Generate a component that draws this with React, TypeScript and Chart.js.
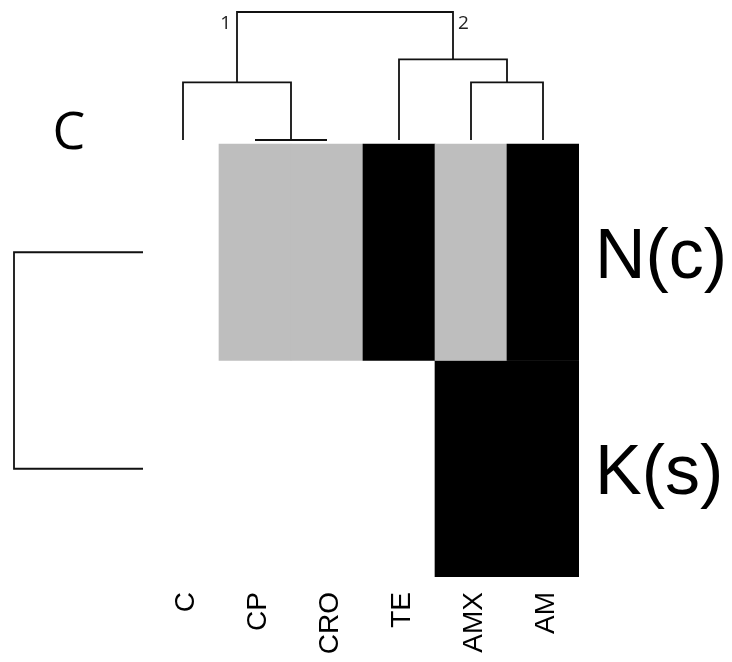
import React, { useEffect, useRef } from "react";
import { Chart, registerables } from "chart.js";

Chart.register(...registerables);

// ---------------- data ----------------
const colLabels = ["C", "CP", "CRO", "TE", "AMX", "AM"];
const rowLabels = ["N(c)", "K(s)"];
// 0 = absent (white), 1 = intermediate (grey), 2 = resistant (black)
const rowNValues = [0, 1, 1, 2, 1, 2];
const rowKValues = [0, 0, 0, 0, 2, 2];
// linkage: [childA, childB, height]; indices >= n refer to earlier merges
const colLinkage = [
  [1, 2, 0.0],
  [4, 5, 0.45],
  [0, 6, 0.45],
  [3, 7, 0.63],
  [8, 9, 1.0],
];
const rowLinkage = [[0, 1, 1.0]];
const clusterTags = ["1", "2"];
const cornerLabel = "C";

// ---------------- style / layout ----------------
const W = 732;
const H = 662;
const COL_PX = 72;
const ROW_PX = 216.5;
const HEAT_LEFT = 147;
const HEAT_TOP = 144;
const HEAT_BOTTOM = 577;
const HEAT_RIGHT = HEAT_LEFT + COL_PX * colLabels.length;
const X_MIN = -0.5 - HEAT_LEFT / COL_PX;
const X_MAX = colLabels.length - 0.5;
const Y_MIN = -0.5;
const Y_MAX = rowLabels.length - 0.5 + HEAT_TOP / ROW_PX;
const TOP_BASE = rowLabels.length - 0.5 + 4 / ROW_PX;
const TOP_SPAN = 128 / ROW_PX;
const LEFT_BASE = -0.5 - 4 / COL_PX;
const LEFT_SPAN = 129 / COL_PX;
const COLORS = ["#ffffff", "#bebebe", "#000000"];
const LINE_COLOR = "#111111";
const LINE_WIDTH = 1.8;
const SANS = "'Liberation Sans', Arial, sans-serif";

const rowY = (r: number) => rowLabels.length - 1 - r;

function dendroSegments(
  linkage: number[][],
  n: number,
  leafPos: (i: number) => number
) {
  const pos: number[] = [];
  const hgt: number[] = [];
  for (let i = 0; i < n; i++) {
    pos[i] = leafPos(i);
    hgt[i] = 0;
  }
  const segs: { a: number; b: number; ha: number; hb: number; h: number }[] = [];
  linkage.forEach(([a, b, h], k) => {
    segs.push({ a: pos[a], b: pos[b], ha: hgt[a], hb: hgt[b], h });
    pos[n + k] = (pos[a] + pos[b]) / 2;
    hgt[n + k] = h;
  });
  return { segs, pos, hgt };
}

const zeroPad = (s: any) => {
  s.paddingLeft = 0;
  s.paddingRight = 0;
  s.paddingTop = 0;
  s.paddingBottom = 0;
};

export default function App() {
  const ref = useRef<HTMLCanvasElement | null>(null);

  useEffect(() => {
    if (!ref.current) return;
    const rows = [rowNValues, rowKValues];

    const barSets = rows.map((vals, r) => ({
      type: "bar" as const,
      label: rowLabels[r],
      data: vals.map((_, i) => ({ x: i, y: [rowY(r) - 0.5, rowY(r) + 0.5] })),
      backgroundColor: vals.map((v) => COLORS[v]),
      borderWidth: 0,
      barPercentage: 1,
      categoryPercentage: 1,
      grouped: false,
      order: 2,
    }));

    const top = dendroSegments(colLinkage, colLabels.length, (i) => i);
    const topSets = top.segs.map((s) => ({
      type: "line" as const,
      label: "",
      data: [
        { x: s.a, y: TOP_BASE + s.ha * TOP_SPAN },
        { x: s.a, y: TOP_BASE + s.h * TOP_SPAN },
        { x: s.b, y: TOP_BASE + s.h * TOP_SPAN },
        { x: s.b, y: TOP_BASE + s.hb * TOP_SPAN },
      ],
      borderColor: LINE_COLOR,
      borderWidth: LINE_WIDTH,
      pointRadius: 0,
      fill: false,
      tension: 0,
      order: 1,
    }));

    const left = dendroSegments(rowLinkage, rowLabels.length, rowY);
    const leftSets = left.segs.map((s) => ({
      type: "line" as const,
      label: "",
      data: [
        { x: LEFT_BASE - s.ha * LEFT_SPAN, y: s.a },
        { x: LEFT_BASE - s.h * LEFT_SPAN, y: s.a },
        { x: LEFT_BASE - s.h * LEFT_SPAN, y: s.b },
        { x: LEFT_BASE - s.hb * LEFT_SPAN, y: s.b },
      ],
      borderColor: LINE_COLOR,
      borderWidth: LINE_WIDTH,
      pointRadius: 0,
      fill: false,
      tension: 0,
      order: 1,
    }));

    const annot = {
      id: "annot",
      afterDraw(chart: any) {
        const ctx = chart.ctx;
        const xs = chart.scales.x;
        const ys = chart.scales.y;
        const root = colLinkage[colLinkage.length - 1];
        const rootY = ys.getPixelForValue(TOP_BASE + root[2] * TOP_SPAN);
        const lx = xs.getPixelForValue(top.pos[root[0]]);
        const rx = xs.getPixelForValue(top.pos[root[1]]);
        ctx.save();
        ctx.fillStyle = "#222";
        ctx.font = "19px 'Open Sans', sans-serif";
        ctx.textBaseline = "middle";
        ctx.textAlign = "right";
        ctx.fillText(clusterTags[0], lx - 6, rootY + 12);
        ctx.textAlign = "left";
        ctx.fillText(clusterTags[1], rx + 5, rootY + 12);
        ctx.fillStyle = "#000";
        ctx.font = "52px 'Open Sans', sans-serif";
        ctx.textAlign = "center";
        ctx.textBaseline = "middle";
        ctx.fillText(cornerLabel, chart.chartArea.left + 69, 134);
        ctx.restore();
      },
    };

    const chart = new Chart(ref.current, {
      data: { datasets: [...barSets, ...topSets, ...leftSets] as any },
      options: {
        responsive: false,
        animation: false,
        layout: { padding: 0, autoPadding: false },
        plugins: { legend: { display: false }, tooltip: { enabled: false } },
        scales: {
          x: {
            type: "linear",
            position: "bottom",
            min: X_MIN,
            max: X_MAX,
            offset: false,
            grid: { display: false, drawTicks: false, offset: false },
            border: { display: false },
            afterBuildTicks: (s: any) => {
              s.ticks = colLabels.map((_, i) => ({ value: i }));
            },
            afterFit: (s: any) => {
              s.height = H - HEAT_BOTTOM;
              zeroPad(s);
            },
            ticks: {
              autoSkip: false,
              minRotation: 90,
              maxRotation: 90,
              padding: 15,
              labelOffset: 3,
              color: "#000",
              font: { family: SANS, size: 28 },
              callback: (v: any) => colLabels[Math.round(Number(v))] ?? "",
            },
          },
          y: {
            type: "linear",
            position: "right",
            min: Y_MIN,
            max: Y_MAX,
            grid: { display: false, drawTicks: false },
            border: { display: false },
            afterBuildTicks: (s: any) => {
              s.ticks = rowLabels.map((_, r) => ({ value: rowY(r) }));
            },
            afterFit: (s: any) => {
              s.width = W - HEAT_RIGHT;
              zeroPad(s);
            },
            ticks: {
              autoSkip: false,
              padding: 16,
              labelOffset: 6,
              color: "#000",
              font: { family: SANS, size: 70 },
              callback: (v: any) => rowLabels[rowLabels.length - 1 - Math.round(Number(v))] ?? "",
            },
          },
        },
      },
      plugins: [annot],
    });
    return () => chart.destroy();
  }, []);

  return (
    <div style={{ position: "fixed", left: 0, top: 0, width: W, height: H, background: "#fff" }}>
      <canvas ref={ref} width={W} height={H} style={{ width: W, height: H }} />
    </div>
  );
}
